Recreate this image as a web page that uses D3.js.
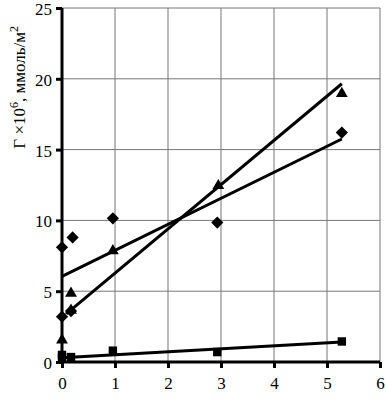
<!DOCTYPE html>
<html>
<head>
<meta charset="utf-8">
<script src="https://cdn.jsdelivr.net/npm/d3@7"></script>
<style>
  body { margin: 0; background: #fff; }
  svg text { font-family: "Liberation Serif", "Times New Roman", Times, serif; fill: #000; }
</style>
</head>
<body>
<div id="chart"></div>
<script>
// series: diamonds, triangles, squares
const diamondX = [0, 0, 0.2, 0.17, 0.96, 2.93, 5.28];
const diamondY = [3.2, 8.1, 8.8, 3.6, 10.15, 9.85, 16.2];
const triangleX = [0, 0.17, 0.17, 0.96, 2.95, 5.28];
const triangleY = [1.55, 4.85, 3.65, 7.85, 12.45, 18.95];
const squareX = [0, 0, 0.17, 0.96, 2.93, 5.28];
const squareY = [0.5, 0.3, 0.35, 0.8, 0.7, 1.45];

// trend lines: [x start, x end], [y start, y end]
const diamondFitX = [0, 5.28], diamondFitY = [6.05, 15.75];
const triangleFitX = [0.08, 5.28], triangleFitY = [3.4, 19.65];
const squareFitX = [0, 5.28], squareFitY = [0.3, 1.42];

const xTicks = [0, 1, 2, 3, 4, 5, 6];
const yTicks = [0, 5, 10, 15, 20, 25];

const W = 386, H = 400;
const margin = { top: 8, right: 6, bottom: 38, left: 62 };

const svg = d3.select("#chart").append("svg")
  .attr("width", W).attr("height", H);

const x = d3.scaleLinear().domain([0, 6]).range([margin.left, W - margin.right]);
const y = d3.scaleLinear().domain([0, 25]).range([H - margin.bottom, margin.top]);

// grid
svg.append("g")
  .selectAll("line.v")
  .data(xTicks.slice(1))
  .enter().append("line")
  .attr("x1", d => x(d)).attr("x2", d => x(d))
  .attr("y1", y(0)).attr("y2", y(25))
  .attr("stroke", "#777").attr("stroke-width", 1);

svg.append("g")
  .selectAll("line.h")
  .data(yTicks.slice(1))
  .enter().append("line")
  .attr("x1", x(0)).attr("x2", x(6))
  .attr("y1", d => y(d)).attr("y2", d => y(d))
  .attr("stroke", "#777").attr("stroke-width", 1);

// axes
const yAxis = svg.append("g")
  .attr("transform", `translate(${x(0)},0)`)
  .call(d3.axisLeft(y).tickValues(yTicks).tickFormat(d3.format("d")).tickSize(6).tickPadding(4));
const xAxis = svg.append("g")
  .attr("transform", `translate(0,${y(0)})`)
  .call(d3.axisBottom(x).tickValues(xTicks).tickFormat(d3.format("d")).tickSize(6).tickPadding(9));

[xAxis, yAxis].forEach(g => {
  g.attr("font-family", null);
  g.select(".domain").attr("stroke", "#000").attr("stroke-width", 3);
  g.selectAll(".tick line").attr("stroke", "#000").attr("stroke-width", 3);
  g.selectAll(".tick text").style("font-size", "17px").attr("fill", "#000")
    .style("font-family", "'Liberation Serif', 'Times New Roman', serif");
});
xAxis.select(".domain").attr("d", `M${x(0)},0H${x(6)}`);
yAxis.select(".domain").attr("d", `M0,${y(0)}V${y(25)}`);
yAxis.selectAll(".tick text").attr("dy", "0.38em");

// axis label
const lbl = svg.append("text")
  .attr("transform", `translate(25,${y(19.4)}) rotate(-90)`)
  .attr("text-anchor", "middle")
  .style("font-size", "17px");
lbl.append("tspan").text("Г ×10");
lbl.append("tspan").attr("dy", -7).style("font-size", "12px").text("6");
lbl.append("tspan").attr("dy", 7).text(", ммоль/м");
lbl.append("tspan").attr("dy", -7).style("font-size", "12px").text("2");

// trend lines
const line = d3.line().x(d => x(d[0])).y(d => y(d[1]));
[[diamondFitX, diamondFitY], [triangleFitX, triangleFitY], [squareFitX, squareFitY]]
  .forEach(([xs, ys]) => {
    svg.append("path")
      .datum(d3.zip(xs, ys))
      .attr("d", line)
      .attr("fill", "none").attr("stroke", "#000").attr("stroke-width", 3);
  });

// markers
function drawMarkers(xs, ys, type, size) {
  svg.append("g")
    .selectAll("path")
    .data(d3.zip(xs, ys))
    .enter().append("path")
    .attr("transform", d => `translate(${x(d[0])},${y(d[1])})`)
    .attr("d", d3.symbol().type(type).size(size))
    .attr("fill", "#000");
}
drawMarkers(diamondX, diamondY, d3.symbolDiamond2 || d3.symbolDiamond, 95);
drawMarkers(triangleX, triangleY, d3.symbolTriangle2 || d3.symbolTriangle, 100);
drawMarkers(squareX, squareY, d3.symbolSquare2 || d3.symbolSquare, 90);
</script>
</body>
</html>
